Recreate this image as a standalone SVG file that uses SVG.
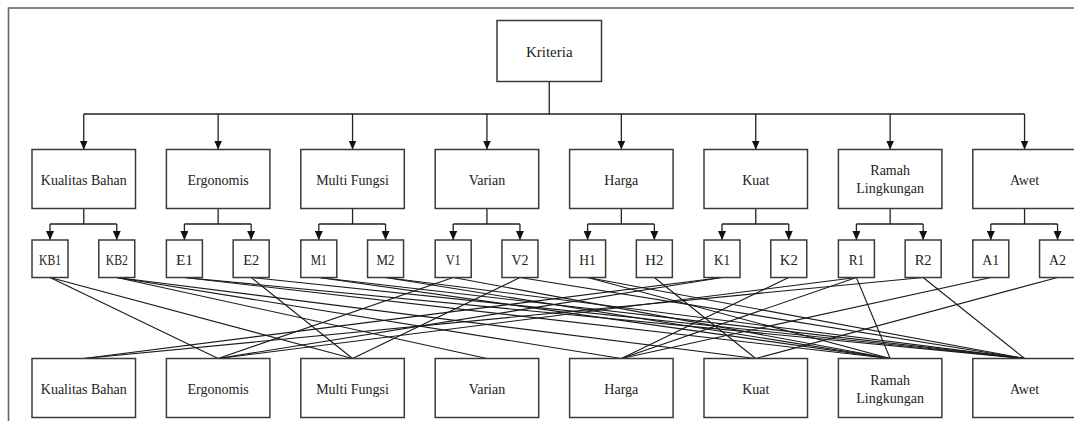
<svg xmlns="http://www.w3.org/2000/svg" width="1074" height="421" viewBox="0 0 1074 421">
<style>
.box{fill:#fff;stroke:#3a3a3a;stroke-width:1.5}
.t{font-family:"Liberation Serif","Times New Roman",serif;font-size:14px;fill:#222;text-anchor:middle}
.s{font-family:"Liberation Serif","Times New Roman",serif;font-size:15px;fill:#222;text-anchor:middle}
.c{fill:none;stroke:#222;stroke-width:1.3}
.x{fill:none;stroke:#1a1a1a;stroke-width:1.1}
</style>
<defs>
<marker id="ah" markerUnits="userSpaceOnUse" markerWidth="9" markerHeight="8" refX="9" refY="4" orient="auto" viewBox="0 0 9 8"><path d="M0,0 L9,4 L0,8 Z" fill="#111"/></marker>
</defs>
<rect width="1074" height="421" fill="#fff"/>
<rect x="8.5" y="8" width="1100" height="500" fill="none" stroke="#666" stroke-width="1.6"/>

<g id="connectors">
<path class="c" d="M549.25,81.5 V114 M83.75,114 H1024.55"/>
<path class="c" marker-end="url(#ah)" d="M83.75,114 V149.5"/>
<path class="c" marker-end="url(#ah)" d="M218.15,114 V149.5"/>
<path class="c" marker-end="url(#ah)" d="M352.55,114 V149.5"/>
<path class="c" marker-end="url(#ah)" d="M486.95,114 V149.5"/>
<path class="c" marker-end="url(#ah)" d="M621.35,114 V149.5"/>
<path class="c" marker-end="url(#ah)" d="M755.75,114 V149.5"/>
<path class="c" marker-end="url(#ah)" d="M890.15,114 V149.5"/>
<path class="c" marker-end="url(#ah)" d="M1024.55,114 V149.5"/>

<path class="c" d="M83.75,208.5 V224 M50,224 H116.75"/>
<path class="c" marker-end="url(#ah)" d="M50,224 V240"/>
<path class="c" marker-end="url(#ah)" d="M116.75,224 V240"/>
<path class="c" d="M218.15,208.5 V224 M184.4,224 H251.15"/>
<path class="c" marker-end="url(#ah)" d="M184.4,224 V240"/>
<path class="c" marker-end="url(#ah)" d="M251.15,224 V240"/>
<path class="c" d="M352.55,208.5 V224 M318.8,224 H385.55"/>
<path class="c" marker-end="url(#ah)" d="M318.8,224 V240"/>
<path class="c" marker-end="url(#ah)" d="M385.55,224 V240"/>
<path class="c" d="M486.95,208.5 V224 M453.2,224 H519.95"/>
<path class="c" marker-end="url(#ah)" d="M453.2,224 V240"/>
<path class="c" marker-end="url(#ah)" d="M519.95,224 V240"/>
<path class="c" d="M621.35,208.5 V224 M587.6,224 H654.35"/>
<path class="c" marker-end="url(#ah)" d="M587.6,224 V240"/>
<path class="c" marker-end="url(#ah)" d="M654.35,224 V240"/>
<path class="c" d="M755.75,208.5 V224 M722,224 H788.75"/>
<path class="c" marker-end="url(#ah)" d="M722,224 V240"/>
<path class="c" marker-end="url(#ah)" d="M788.75,224 V240"/>
<path class="c" d="M890.15,208.5 V224 M856.4,224 H923.15"/>
<path class="c" marker-end="url(#ah)" d="M856.4,224 V240"/>
<path class="c" marker-end="url(#ah)" d="M923.15,224 V240"/>
<path class="c" d="M1024.55,208.5 V224 M990.8,224 H1057.55"/>
<path class="c" marker-end="url(#ah)" d="M990.8,224 V240"/>
<path class="c" marker-end="url(#ah)" d="M1057.55,224 V240"/>

<!-- cross relations -->
<line class="x" x1="50" y1="277.5" x2="218.15" y2="358.5"/>
<line class="x" x1="50" y1="277.5" x2="352.55" y2="358.5"/>
<line class="x" x1="116.75" y1="277.5" x2="486.95" y2="358.5"/>
<line class="x" x1="116.75" y1="277.5" x2="621.35" y2="358.5"/>
<line class="x" x1="116.75" y1="277.5" x2="755.75" y2="358.5"/>
<line class="x" x1="184.4" y1="277.5" x2="890.15" y2="358.5"/>
<line class="x" x1="184.4" y1="277.5" x2="1024.55" y2="358.5"/>
<line class="x" x1="251.15" y1="277.5" x2="352.55" y2="358.5"/>
<line class="x" x1="251.15" y1="277.5" x2="1024.55" y2="358.5"/>
<line class="x" x1="318.8" y1="277.5" x2="890.15" y2="358.5"/>
<line class="x" x1="318.8" y1="277.5" x2="1024.55" y2="358.5"/>
<line class="x" x1="385.55" y1="277.5" x2="890.15" y2="358.5"/>
<line class="x" x1="385.55" y1="277.5" x2="1024.55" y2="358.5"/>
<line class="x" x1="453.2" y1="277.5" x2="218.15" y2="358.5"/>
<line class="x" x1="453.2" y1="277.5" x2="890.15" y2="358.5"/>
<line class="x" x1="519.95" y1="277.5" x2="352.55" y2="358.5"/>
<line class="x" x1="519.95" y1="277.5" x2="1024.55" y2="358.5"/>
<line class="x" x1="587.6" y1="277.5" x2="890.15" y2="358.5"/>
<line class="x" x1="587.6" y1="277.5" x2="1024.55" y2="358.5"/>
<line class="x" x1="654.35" y1="277.5" x2="755.75" y2="358.5"/>
<line class="x" x1="722" y1="277.5" x2="83.75" y2="358.5"/>
<line class="x" x1="722" y1="277.5" x2="218.15" y2="358.5"/>
<line class="x" x1="788.75" y1="277.5" x2="621.35" y2="358.5"/>
<line class="x" x1="856.4" y1="277.5" x2="218.15" y2="358.5"/>
<line class="x" x1="856.4" y1="277.5" x2="621.35" y2="358.5"/>
<line class="x" x1="856.4" y1="277.5" x2="890.15" y2="358.5"/>
<line class="x" x1="923.15" y1="277.5" x2="83.75" y2="358.5"/>
<line class="x" x1="923.15" y1="277.5" x2="1024.55" y2="358.5"/>
<line class="x" x1="990.8" y1="277.5" x2="621.35" y2="358.5"/>
<line class="x" x1="1057.55" y1="277.5" x2="755.75" y2="358.5"/>
</g>

<g id="kriteria"><rect class="box" x="497" y="20.5" width="104.5" height="61"/><text class="t" style="font-size:15px" x="549.25" y="56.5">Kriteria</text></g>

<g id="c-kualitas-bahan"><rect class="box" x="32" y="149.5" width="103.5" height="59"/><text class="t" x="83.75" y="184.5">Kualitas Bahan</text></g>
<g id="c-ergonomis"><rect class="box" x="166.4" y="149.5" width="103.5" height="59"/><text class="t" x="218.15" y="184.5">Ergonomis</text></g>
<g id="c-multi-fungsi"><rect class="box" x="300.8" y="149.5" width="103.5" height="59"/><text class="t" x="352.55" y="184.5">Multi Fungsi</text></g>
<g id="c-varian"><rect class="box" x="435.2" y="149.5" width="103.5" height="59"/><text class="t" x="486.95" y="184.5">Varian</text></g>
<g id="c-harga"><rect class="box" x="569.6" y="149.5" width="103.5" height="59"/><text class="t" x="621.35" y="184.5">Harga</text></g>
<g id="c-kuat"><rect class="box" x="704" y="149.5" width="103.5" height="59"/><text class="t" x="755.75" y="184.5">Kuat</text></g>
<g id="c-ramah"><rect class="box" x="838.4" y="149.5" width="103.5" height="59"/><text class="t" x="890.15" y="175">Ramah</text><text class="t" x="890.15" y="193">Lingkungan</text></g>
<g id="c-awet"><rect class="box" x="972.8" y="149.5" width="103.5" height="59"/><text class="t" x="1024.55" y="184.5">Awet</text></g>

<g id="s-kb1"><rect class="box" x="32" y="240" width="36" height="37.5"/><text class="s" x="50" y="265" textLength="22" lengthAdjust="spacingAndGlyphs">KB1</text></g>
<g id="s-kb2"><rect class="box" x="98.75" y="240" width="36" height="37.5"/><text class="s" x="116.75" y="265" textLength="22" lengthAdjust="spacingAndGlyphs">KB2</text></g>
<g id="s-e1"><rect class="box" x="166.4" y="240" width="36" height="37.5"/><text class="s" x="184.4" y="265" textLength="17" lengthAdjust="spacingAndGlyphs">E1</text></g>
<g id="s-e2"><rect class="box" x="233.15" y="240" width="36" height="37.5"/><text class="s" x="251.15" y="265" textLength="16" lengthAdjust="spacingAndGlyphs">E2</text></g>
<g id="s-m1"><rect class="box" x="300.8" y="240" width="36" height="37.5"/><text class="s" x="318.8" y="265" textLength="16" lengthAdjust="spacingAndGlyphs">M1</text></g>
<g id="s-m2"><rect class="box" x="367.55" y="240" width="36" height="37.5"/><text class="s" x="385.55" y="265" textLength="18" lengthAdjust="spacingAndGlyphs">M2</text></g>
<g id="s-v1"><rect class="box" x="435.2" y="240" width="36" height="37.5"/><text class="s" x="453.2" y="265" textLength="15" lengthAdjust="spacingAndGlyphs">V1</text></g>
<g id="s-v2"><rect class="box" x="501.95" y="240" width="36" height="37.5"/><text class="s" x="519.95" y="265" textLength="17" lengthAdjust="spacingAndGlyphs">V2</text></g>
<g id="s-h1"><rect class="box" x="569.6" y="240" width="36" height="37.5"/><text class="s" x="587.6" y="265" textLength="16.5" lengthAdjust="spacingAndGlyphs">H1</text></g>
<g id="s-h2"><rect class="box" x="636.35" y="240" width="36" height="37.5"/><text class="s" x="654.35" y="265" textLength="18" lengthAdjust="spacingAndGlyphs">H2</text></g>
<g id="s-k1"><rect class="box" x="704" y="240" width="36" height="37.5"/><text class="s" x="722" y="265" textLength="16" lengthAdjust="spacingAndGlyphs">K1</text></g>
<g id="s-k2"><rect class="box" x="770.75" y="240" width="36" height="37.5"/><text class="s" x="788.75" y="265" textLength="18" lengthAdjust="spacingAndGlyphs">K2</text></g>
<g id="s-r1"><rect class="box" x="838.4" y="240" width="36" height="37.5"/><text class="s" x="856.4" y="265" textLength="15.5" lengthAdjust="spacingAndGlyphs">R1</text></g>
<g id="s-r2"><rect class="box" x="905.15" y="240" width="36" height="37.5"/><text class="s" x="923.15" y="265" textLength="17" lengthAdjust="spacingAndGlyphs">R2</text></g>
<g id="s-a1"><rect class="box" x="972.8" y="240" width="36" height="37.5"/><text class="s" x="990.8" y="265" textLength="17" lengthAdjust="spacingAndGlyphs">A1</text></g>
<g id="s-a2"><rect class="box" x="1039.55" y="240" width="36" height="37.5"/><text class="s" x="1057.55" y="265" textLength="17" lengthAdjust="spacingAndGlyphs">A2</text></g>

<g id="b-kualitas-bahan"><rect class="box" x="32" y="358.5" width="103.5" height="59"/><text class="t" x="83.75" y="393.5">Kualitas Bahan</text></g>
<g id="b-ergonomis"><rect class="box" x="166.4" y="358.5" width="103.5" height="59"/><text class="t" x="218.15" y="393.5">Ergonomis</text></g>
<g id="b-multi-fungsi"><rect class="box" x="300.8" y="358.5" width="103.5" height="59"/><text class="t" x="352.55" y="393.5">Multi Fungsi</text></g>
<g id="b-varian"><rect class="box" x="435.2" y="358.5" width="103.5" height="59"/><text class="t" x="486.95" y="393.5">Varian</text></g>
<g id="b-harga"><rect class="box" x="569.6" y="358.5" width="103.5" height="59"/><text class="t" x="621.35" y="393.5">Harga</text></g>
<g id="b-kuat"><rect class="box" x="704" y="358.5" width="103.5" height="59"/><text class="t" x="755.75" y="393.5">Kuat</text></g>
<g id="b-ramah"><rect class="box" x="838.4" y="358.5" width="103.5" height="59"/><text class="t" x="890.15" y="384.5">Ramah</text><text class="t" x="890.15" y="402.5">Lingkungan</text></g>
<g id="b-awet"><rect class="box" x="972.8" y="358.5" width="103.5" height="59"/><text class="t" x="1024.55" y="393.5">Awet</text></g>
</svg>
